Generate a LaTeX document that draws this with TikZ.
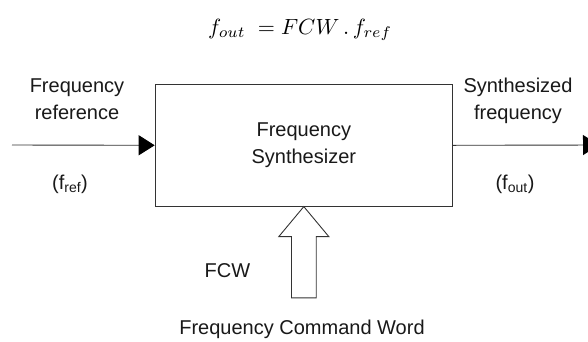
\documentclass[tikz,border=0pt]{standalone}
\usepackage{fontspec}
\setmainfont{Liberation Sans}
\usetikzlibrary{arrows.meta,calc}
\begin{document}
\begin{tikzpicture}[x=1pt,y=-1pt,
  lab/.style={font=\fontsize{20}{27}\selectfont, align=center, inner sep=0pt, text=black!90},
  wire/.style={draw=black!80, line width=0.9pt},
  tip/.style={-{Triangle[length=16pt,width=20pt,color=black,fill=black]}}]
\clip (0,0) rectangle (588,341);
\fill[white] (0,0) rectangle (588,341);
\node[anchor=base, inner sep=0pt] (eq) at (300,34) {\scalebox{2.2}{$f_{out}\ = FCW\,.\,f_{ref}$}};
\node[wire, lab, minimum width=297.3pt, minimum height=121.7pt, anchor=north west] (syn) at (154.7,84) {Frequency\\Synthesizer};
\coordinate (in) at (12,145);
\coordinate (out) at (599,145);
\draw[wire,tip] (in) -- (syn.west);
\draw[wire,tip] (syn.east) -- (out);
\draw[wire, fill=white, line join=miter] (syn.south) -- ++(-25,30) -- ++(12.7,0) -- ++(0,61.3) -- ++(24.7,0) -- ++(0,-61.3) -- ++(12.6,0) -- cycle;
\node[lab] (inlab) at (77,99) {Frequency\\reference};
\node[lab] (outlab) at (518,101) {Synthesized\\frequency};
\node[lab, anchor=base] (fref) at (70,189) {(f\textsubscript{ref})};
\node[lab, anchor=base] (fout) at (515,189) {(f\textsubscript{out})};
\node[lab, anchor=base] (fcw) at (227.5,277) {FCW};
\node[lab, anchor=base] (fcwlab) at (302,334.5) {Frequency Command Word};
\end{tikzpicture}
\end{document}
